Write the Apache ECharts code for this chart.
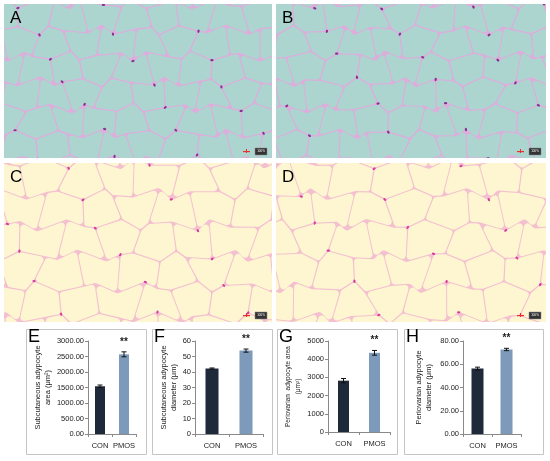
<!DOCTYPE html>
<html>
<head>
<meta charset="utf-8">
<script src="https://cdn.jsdelivr.net/npm/echarts@6/dist/echarts.min.js"></script>
<style>html,body{margin:0;padding:0;background:#fff}#c{width:550px;height:461px}</style>
</head>
<body>
<div id="c"></div>
<script>
// ---- data ----
const categories = ['CON', 'PMOS'];
const subcutAreaMean = [1540, 2570];
const subcutAreaErr = [40, 80];
const subcutDiamMean = [42.2, 53.8];
const subcutDiamErr = [0.4, 1.0];
const periAreaMean = [2820, 4350];
const periAreaErr = [120, 130];
const periDiamMean = [56.3, 72.7];
const periDiamErr = [1.2, 1.0];
const significance = ['', '**'];
const panelLetters = ['A', 'B', 'C', 'D', 'E', 'F', 'G', 'H'];
const axisTitles = [
  'Subcutaneous adypocyte\narea (\u03bcm\u00b2)',
  'Subcutaneous adypocyte\ndiameter (\u03bcm)',
  'Periovarian  adypocyte area\n(\u03bcm\u00b2)',
  'Periovarian adypocyte\ndiameter (\u03bcm)'
];
const axisMax = [3000, 60, 5000, 80];
const axisInterval = [500, 10, 1000, 20];
const axisDecimals = [2, 0, 0, 2];

// ---- decorative tissue texture (stands in for the histology photos) ----
function tissue(W, H, o) {
  const c = document.createElement('canvas');
  c.width = W; c.height = H;
  const g = c.getContext('2d');
  g.fillStyle = o.wall; g.fillRect(0, 0, W, H);
  const w = o.w, h = o.h, a = o.amp, s = o.seed;
  const nx = Math.ceil(W / (w / 2)) + 5, ny = Math.ceil(H / h) + 4;
  const V = [];
  for (let i = 0; i < nx; i++) {
    V.push([]);
    for (let j = 0; j < ny; j++) {
      V[i].push([
        (i - 2) * w / 2 + a * Math.sin(i * 1.93 + j * 2.71 + s) + 0.4 * a * Math.sin(i * 0.7 - j * 0.9 + s * 3),
        (j - 1) * h + a * Math.sin(i * 2.37 - j * 1.61 + s * 1.7)
      ]);
    }
  }
  g.fillStyle = o.bg;
  for (let j = 0; j + 1 < ny; j++) {
    for (let k = 0; k + 2 < nx; k++) {
      if ((k + j) % 2 !== 0) continue;
      const pts = [V[k][j], V[k + 1][j], V[k + 2][j], V[k + 2][j + 1], V[k + 1][j + 1], V[k][j + 1]];
      let cx = 0, cy = 0;
      pts.forEach(p => { cx += p[0]; cy += p[1]; });
      cx /= 6; cy /= 6;
      const q = pts.map(p => {
        const dx = p[0] - cx, dy = p[1] - cy, d = Math.sqrt(dx * dx + dy * dy) || 1;
        const f = Math.max(0, 1 - o.gap / d);
        return [cx + dx * f, cy + dy * f];
      });
      g.beginPath();
      g.moveTo((q[5][0] + q[0][0]) / 2, (q[5][1] + q[0][1]) / 2);
      for (let t = 0; t < 6; t++) {
        const p = q[t], n = q[(t + 1) % 6];
        g.arcTo(p[0], p[1], n[0], n[1], o.round);
      }
      g.closePath();
      g.fill();
    }
  }
  g.fillStyle = o.nuc;
  for (let i = 0; i < nx; i++) for (let j = 0; j < ny; j++) {
    if ((i * 7 + j * 3 + s) % 5 === 0) {
      const p = V[i][j];
      g.beginPath(); g.ellipse(p[0], p[1], 1.7, 1.1, (i + j) * 0.7, 0, Math.PI * 2); g.fill();
    }
  }
  return c;
}
const blueOpts = {bg: '#acd5d0', wall: '#dcaedb', nuc: '#8a2e94', w: 32, h: 26, amp: 5, gap: 0.8, round: 3};
const yellowOpts = {bg: '#fdf6d1', wall: '#f4c0d0', nuc: '#d83aa0', w: 38, h: 31, amp: 6, gap: 0.7, round: 3.5};
const imgA = tissue(268, 154, Object.assign({}, blueOpts, {seed: 1}));
const imgB = tissue(270, 154, Object.assign({}, blueOpts, {seed: 4}));
const imgC = tissue(268, 159, Object.assign({}, yellowOpts, {seed: 2}));
const imgD = tissue(270, 159, Object.assign({}, yellowOpts, {seed: 3}));

const panels = [
  {img: imgA, x: 4, y: 4, w: 268, h: 154},
  {img: imgB, x: 276, y: 4, w: 270, h: 154},
  {img: imgC, x: 4, y: 163, w: 268, h: 159},
  {img: imgD, x: 276, y: 163, w: 270, h: 159}
];
const graphics = [];
panels.forEach((p, k) => {
  graphics.push({type: 'image', z: 0, style: {image: p.img, x: p.x, y: p.y, width: p.w, height: p.h}});
  graphics.push({type: 'text', z: 5, style: {text: panelLetters[k], x: p.x + 6, y: p.y + 6, font: '17px "Liberation Sans"', fill: '#000', verticalAlign: 'top'}});
  graphics.push({type: 'rect', z: 5, shape: {x: p.x + p.w - 17, y: p.y + p.h - 10, width: 12, height: 7}, style: {fill: '#333', stroke: '#888', lineWidth: 0.5}});
  graphics.push({type: 'text', z: 6, style: {text: '100%', x: p.x + p.w - 11, y: p.y + p.h - 6.5, font: '3px sans-serif', fill: '#fff', align: 'center', verticalAlign: 'middle'}});
  graphics.push({type: 'rect', z: 5, shape: {x: p.x + p.w - 29, y: p.y + p.h - 7, width: 7, height: 1.2}, style: {fill: '#e8302a'}});
  graphics.push({type: 'rect', z: 5, shape: {x: p.x + p.w - 26, y: p.y + p.h - 9, width: 1, height: 4}, style: {fill: '#e8302a'}});
});

// chart boxes
const boxes = [
  {x: 26, y: 329, w: 120, h: 125},
  {x: 152, y: 329, w: 120, h: 125},
  {x: 277, y: 329, w: 120, h: 125},
  {x: 404, y: 329, w: 139, h: 125}
];
boxes.forEach((b, k) => {
  graphics.push({type: 'rect', z: 0, shape: {x: b.x + 0.5, y: b.y + 0.5, width: b.w, height: b.h}, style: {fill: null, stroke: '#c4c4c4', lineWidth: 1}});
  graphics.push({type: 'text', z: 5, style: {text: panelLetters[k + 4], x: b.x + 2, y: b.y - 1, font: '18px "Liberation Sans"', fill: '#000', verticalAlign: 'top'}});
});

const grids = [
  {left: 88, top: 341, width: 48, height: 93},
  {left: 195, top: 341, width: 68, height: 93},
  {left: 328, top: 341, width: 62, height: 91},
  {left: 463, top: 341, width: 58, height: 93}
];
const nameGaps = [31, 15, 17, 29];
const nameSizes = [7.5, 7.5, 6.5, 7.5];
const barWidths = [10, 13, 11, 12];
const means = [subcutAreaMean, subcutDiamMean, periAreaMean, periDiamMean];
const errs = [subcutAreaErr, subcutDiamErr, periAreaErr, periDiamErr];
const barColors = ['#1e2a3a', '#7d9aba'];

const xAxes = [], yAxes = [], series = [];
grids.forEach((gr, k) => {
  xAxes.push({
    type: 'category', gridIndex: k, data: categories,
    axisLine: {lineStyle: {color: '#8a8a8a', width: 1}},
    axisTick: {show: true, length: 3, lineStyle: {color: '#8a8a8a'}},
    axisLabel: {fontSize: 7.5, color: '#222', margin: 8, interval: 0, fontFamily: 'Liberation Sans'}
  });
  yAxes.push({
    type: 'value', gridIndex: k, min: 0, max: axisMax[k], interval: axisInterval[k],
    name: axisTitles[k], nameLocation: 'middle', nameRotate: 90, nameGap: nameGaps[k],
    nameTextStyle: {fontSize: nameSizes[k], color: '#222', lineHeight: 10, fontFamily: 'Liberation Sans'},
    axisLine: {show: true, lineStyle: {color: '#8a8a8a', width: 1}},
    axisTick: {show: true, length: 3, lineStyle: {color: '#8a8a8a'}},
    splitLine: {show: false},
    axisLabel: {fontSize: 7.5, color: '#222', margin: 4, fontFamily: 'Liberation Sans',
      formatter: v => v.toFixed(axisDecimals[k])}
  });
  series.push({
    type: 'bar', xAxisIndex: k, yAxisIndex: k, barWidth: barWidths[k],
    data: means[k].map((v, i) => ({value: v, itemStyle: {color: barColors[i]}})),
    animation: false
  });
  series.push({
    type: 'custom', xAxisIndex: k, yAxisIndex: k, z: 3, animation: false,
    data: means[k].map((v, i) => [i, v, errs[k][i]]),
    renderItem: function (params, api) {
      const idx = api.value(0), m = api.value(1), e = api.value(2);
      const top = api.coord([idx, m + e]);
      const bot = api.coord([idx, m - e]);
      const cw = 2.5;
      const star = significance[idx];
      const children = [
        {type: 'line', shape: {x1: top[0], y1: top[1], x2: bot[0], y2: bot[1]}, style: {stroke: '#111', lineWidth: 1}},
        {type: 'line', shape: {x1: top[0] - cw, y1: top[1], x2: top[0] + cw, y2: top[1]}, style: {stroke: '#111', lineWidth: 1}},
        {type: 'line', shape: {x1: bot[0] - cw, y1: bot[1], x2: bot[0] + cw, y2: bot[1]}, style: {stroke: '#111', lineWidth: 1}}
      ];
      if (star) {
        children.push({type: 'text', style: {text: star, x: top[0], y: top[1] - 5, align: 'center', verticalAlign: 'bottom', font: 'bold 10px "Liberation Sans"', fill: '#222'}});
      }
      return {type: 'group', children: children};
    }
  });
});

const chart = echarts.init(document.getElementById('c'), null, {renderer: 'canvas'});
chart.setOption({
  backgroundColor: '#fff',
  animation: false,
  grid: grids,
  xAxis: xAxes,
  yAxis: yAxes,
  series: series,
  graphic: graphics
});
</script>
</body>
</html>
